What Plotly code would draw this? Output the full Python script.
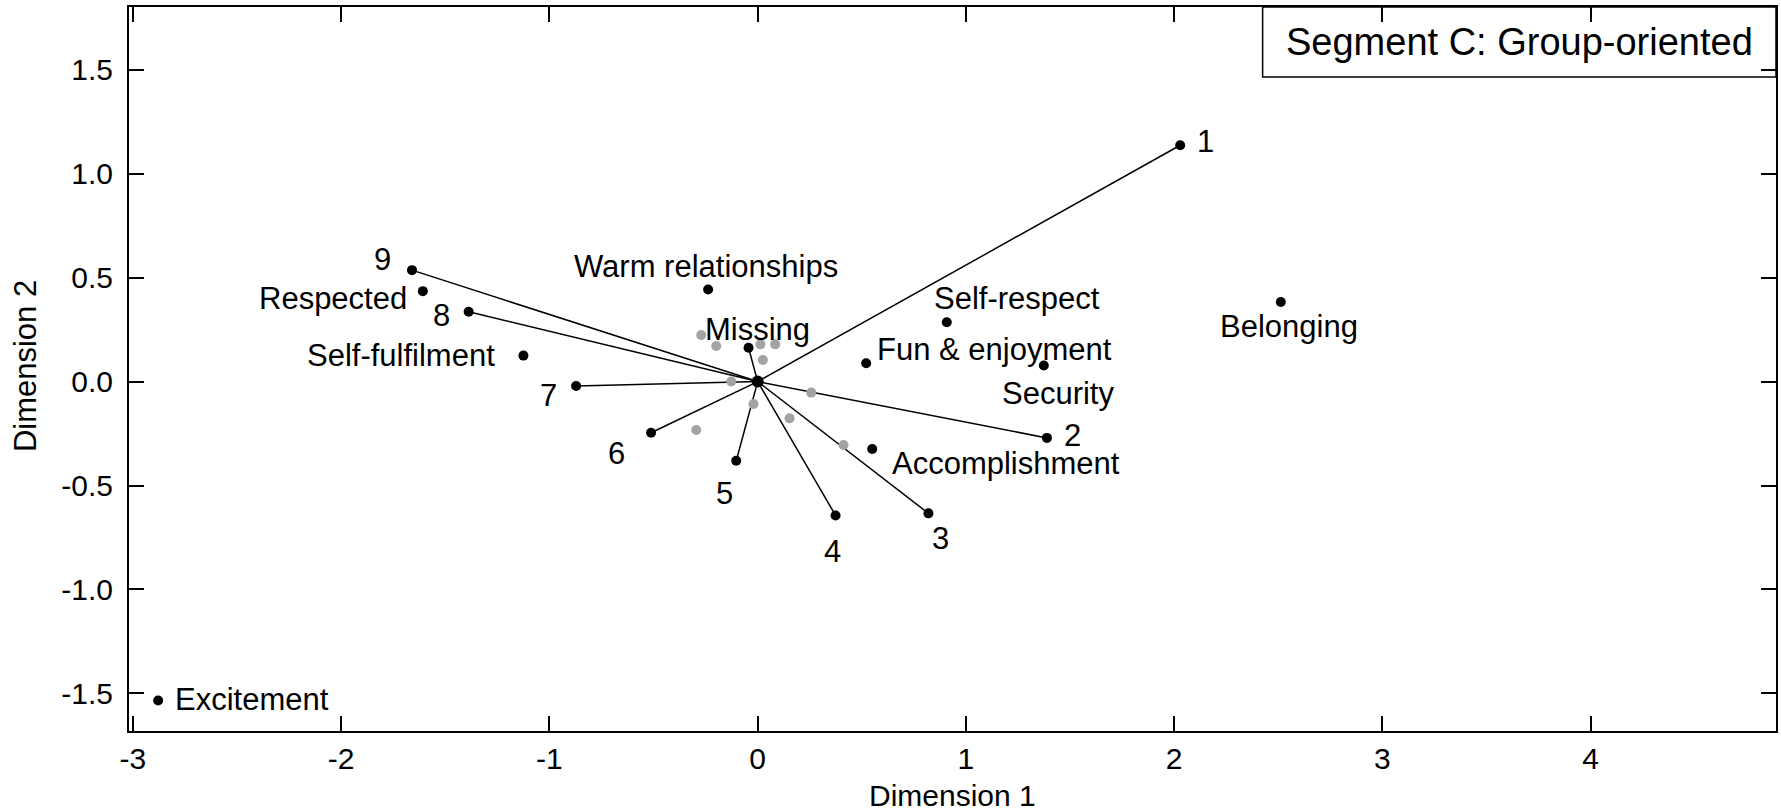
import plotly.graph_objects as go

# ---------------- data ----------------
vector_labels = ["1", "2", "3", "4", "5", "6", "7", "8", "9", "Missing"]
vector_x = [2.029, 1.389, 0.820, 0.374, -0.103, -0.512, -0.872, -1.388, -1.660, -0.044]
vector_y = [1.137, -0.271, -0.634, -0.644, -0.381, -0.246, -0.021, 0.336, 0.536, 0.163]

value_labels = ["Warm relationships", "Respected", "Self-fulfilment", "Self-respect",
                "Fun & enjoyment", "Security", "Accomplishment", "Belonging", "Excitement"]
value_x = [-0.238, -1.608, -1.125, 0.908, 0.521, 1.374, 0.550, 2.512, -2.879]
value_y = [0.443, 0.435, 0.125, 0.285, 0.088, 0.077, -0.324, 0.383, -1.534]

gray_x = [-0.271, -0.199, 0.013, 0.084, 0.025, -0.127, 0.257, -0.020, 0.153, -0.295, 0.412]
gray_y = [0.224, 0.171, 0.179, 0.179, 0.104, 0.000, -0.053, -0.108, -0.177, -0.233, -0.305]

origin_x = [0.0]
origin_y = [0.0]

x_ticks = [-3, -2, -1, 0, 1, 2, 3, 4]
x_ticktext = ["-3", "-2", "-1", "0", "1", "2", "3", "4"]
y_ticks = [-1.5, -1.0, -0.5, 0.0, 0.5, 1.0, 1.5]
y_ticktext = ["-1.5", "-1.0", "-0.5", "0.0", "0.5", "1.0", "1.5"]

x_title = "Dimension 1"
y_title = "Dimension 2"
title_text = "Segment C: Group-oriented"

# ---------------- styles (label placement, px) ----------------
label_place = {
    "1": ("left", 15, 4),
    "2": ("left", 15, 2),
    "3": ("center", 12, -25),
    "4": ("center", -3, -36),
    "5": ("center", -12, -33),
    "6": ("center", -35, -21),
    "7": ("center", -28, -10),
    "8": ("center", -27, -4),
    "9": ("center", -30, 11),
    "Missing": ("center", 9, 18),
    "Warm relationships": ("center", -2, 23),
    "Respected": ("right", -14, -7),
    "Self-fulfilment": ("right", -26, 0),
    "Self-respect": ("center", 70, 24),
    "Fun & enjoyment": ("left", 9, 14),
    "Security": ("center", 14, -28),
    "Accomplishment": ("left", 18, -15),
    "Belonging": ("center", 8, -25),
    "Excitement": ("left", 15, 1),
}

FONT = "Liberation Sans, Arial, Helvetica, sans-serif"

fig = go.Figure()

# vectors from origin
lx, ly = [], []
for x, y in zip(vector_x, vector_y):
    lx += [origin_x[0], x, None]
    ly += [origin_y[0], y, None]
fig.add_trace(go.Scatter(x=lx, y=ly, mode="lines",
                         line=dict(color="black", width=1.5),
                         hoverinfo="skip", showlegend=False))

fig.add_trace(go.Scatter(x=gray_x, y=gray_y, mode="markers",
                         marker=dict(color="#a3a3a3", size=10),
                         showlegend=False))

fig.add_trace(go.Scatter(x=vector_x, y=vector_y, mode="markers",
                         marker=dict(color="black", size=10),
                         text=vector_labels, showlegend=False))

fig.add_trace(go.Scatter(x=value_x, y=value_y, mode="markers",
                         marker=dict(color="black", size=10),
                         text=value_labels, showlegend=False))

fig.add_trace(go.Scatter(x=origin_x, y=origin_y, mode="markers",
                         marker=dict(color="black", size=12),
                         showlegend=False))

annotations = []
for labs, xs, ys in ((vector_labels, vector_x, vector_y), (value_labels, value_x, value_y)):
    for t, x, y in zip(labs, xs, ys):
        anc, dx, dy = label_place[t]
        annotations.append(dict(x=x, y=y, xref="x", yref="y", text=t, showarrow=False,
                                xanchor=anc, yanchor="middle", xshift=dx, yshift=dy,
                                font=dict(family=FONT, size=31, color="black")))

# title box
annotations.append(dict(x=0.8442, y=0.9516, xref="paper", yref="paper", text=title_text,
                        showarrow=False, xanchor="center", yanchor="middle",
                        font=dict(family=FONT, size=38, color="black")))

# axis titles
annotations.append(dict(x=0.5, y=0, xref="paper", yref="paper", text=x_title,
                        showarrow=False, xanchor="center", yanchor="middle", yshift=-64,
                        font=dict(family=FONT, size=30, color="black")))
annotations.append(dict(x=0, y=0.504, xref="paper", yref="paper", text=y_title,
                        showarrow=False, xanchor="center", yanchor="middle", xshift=-104,
                        textangle=-90, font=dict(family=FONT, size=31, color="black")))

fig.update_layout(
    width=1781, height=812,
    margin=dict(l=129, r=5, t=7, b=81),
    paper_bgcolor="white", plot_bgcolor="white",
    font=dict(family=FONT, size=30, color="black"),
    annotations=annotations,
    shapes=[dict(type="rect", xref="paper", yref="paper", x0=0.6883, x1=1.0, y0=0.9033, y1=1.0,
                 line=dict(color="black", width=1.5), fillcolor="rgba(0,0,0,0)")],
    xaxis=dict(range=[-3.019, 4.89], tickvals=x_ticks, ticktext=x_ticktext, ticks="inside",
               ticklen=15, tickwidth=1.5, tickcolor="black", showline=True, linecolor="black",
               linewidth=2, mirror="allticks", showgrid=False, zeroline=False,
               automargin=False, tickfont=dict(family=FONT, size=30)),
    yaxis=dict(range=[-1.681, 1.802], tickvals=y_ticks, ticktext=y_ticktext, ticks="inside",
               ticklen=15, tickwidth=1.5, tickcolor="black", showline=True, linecolor="black",
               linewidth=2, mirror="allticks", showgrid=False, zeroline=False,
               automargin=False, tickfont=dict(family=FONT, size=30), ticklabelstandoff=8),
)

fig.write_html("out.html", config={"displayModeBar": False},
               post_script="document.body.style.margin='0';document.body.style.overflow='hidden';")
